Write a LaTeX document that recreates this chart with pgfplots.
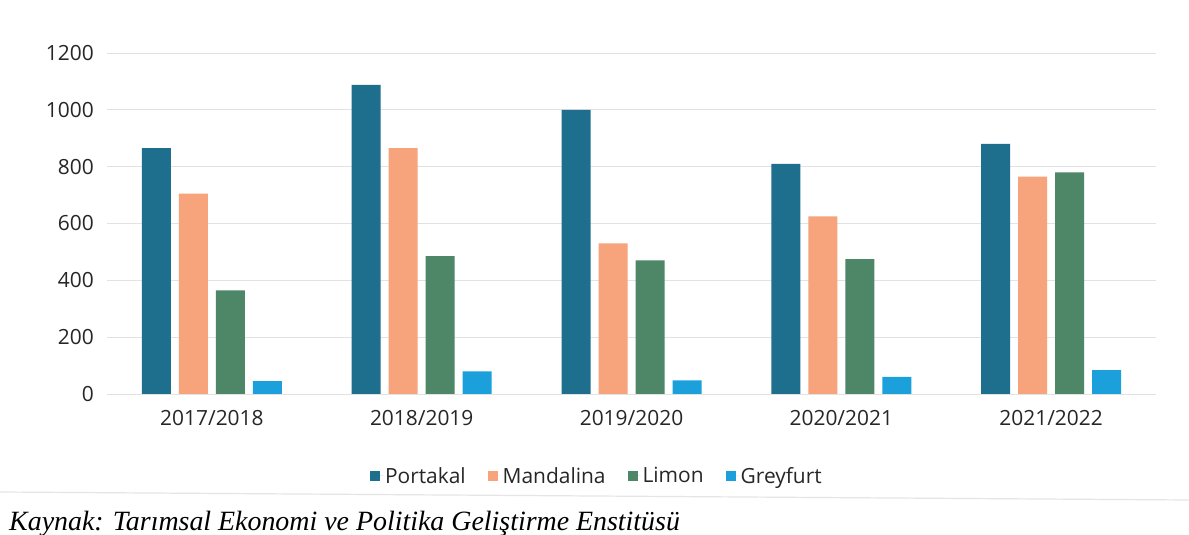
\documentclass[border=0pt]{standalone}
\usepackage{fontspec}
\setmainfont{Open Sans}
\newfontfamily\kaynakfont{Liberation Serif}
\usepackage{pgfplots}
\pgfplotsset{compat=1.18}

\definecolor{portakal}{RGB}{30,110,142}
\definecolor{mandalina}{RGB}{247,164,124}
\definecolor{limon}{RGB}{78,135,104}
\definecolor{greyfurt}{RGB}{28,160,220}
\definecolor{gridgray}{RGB}{226,226,226}

\begin{document}
\begin{tikzpicture}
\path[use as bounding box] (0,0) rectangle (1189bp,535bp);
\fill[white] (0,0) rectangle (1189bp,535bp);
\begin{axis}[
    at={(107bp,141bp)},
    anchor=south west,
    scale only axis,
    width=1049bp, height=341bp,
    xmin=-0.5, xmax=4.5,
    ymin=0, ymax=1200,
    ytick={0,200,...,1200},
    xtick={0,1,2,3,4},
    xticklabels={2017/2018,2018/2019,2019/2020,2020/2021,2021/2022},
    axis line style={draw=none},
    major tick length=0pt,
    ymajorgrids=true,
    grid style={gridgray, line width=0.8bp},
    /pgf/number format/assume math mode=true,
    /pgf/number format/1000 sep={},
    yticklabel style={font=\fontsize{21}{24}\selectfont, color=black!85, anchor=east, inner sep=0pt, xshift=-13bp},
    xticklabel style={font=\fontsize{21}{24}\selectfont, color=black!85, anchor=north, inner sep=0pt, yshift=-16bp},
    ybar=8bp,
    bar width=29bp,
    legend columns=-1,
    legend style={at={(0.467,-0.24)}, anchor=center, draw=none, fill=none,
        font=\fontsize{21}{24}\selectfont, text=black!85,
        /tikz/every even column/.append style={column sep=20bp}},
    legend image code/.code={\path (0bp,0bp) -- (13bp,0bp);
        \fill[#1, draw=none] (0bp,-5bp) rectangle (10bp,5bp);},
]
\addplot[fill=portakal, draw=none] coordinates {(0,865) (1,1088) (2,1000) (3,810) (4,880)};
\addplot[fill=mandalina, draw=none] coordinates {(0,705) (1,865) (2,530) (3,625) (4,765)};
\addplot[fill=limon, draw=none] coordinates {(0,365) (1,485) (2,470) (3,475) (4,780)};
\addplot[fill=greyfurt, draw=none] coordinates {(0,45) (1,80) (2,48) (3,60) (4,84)};
\legend{Portakal, Mandalina, Limon, Greyfurt}
\end{axis}
\draw[gray!20, line width=1.2bp] (0bp,43bp) -- (1189bp,35bp);
\node[anchor=base west, inner sep=0pt, font=\kaynakfont\itshape\fontsize{28}{32}\selectfont]
    at (9bp,5bp) {Kaynak: Tarımsal Ekonomi ve Politika Geliştirme Enstitüsü};
\end{tikzpicture}
\end{document}
